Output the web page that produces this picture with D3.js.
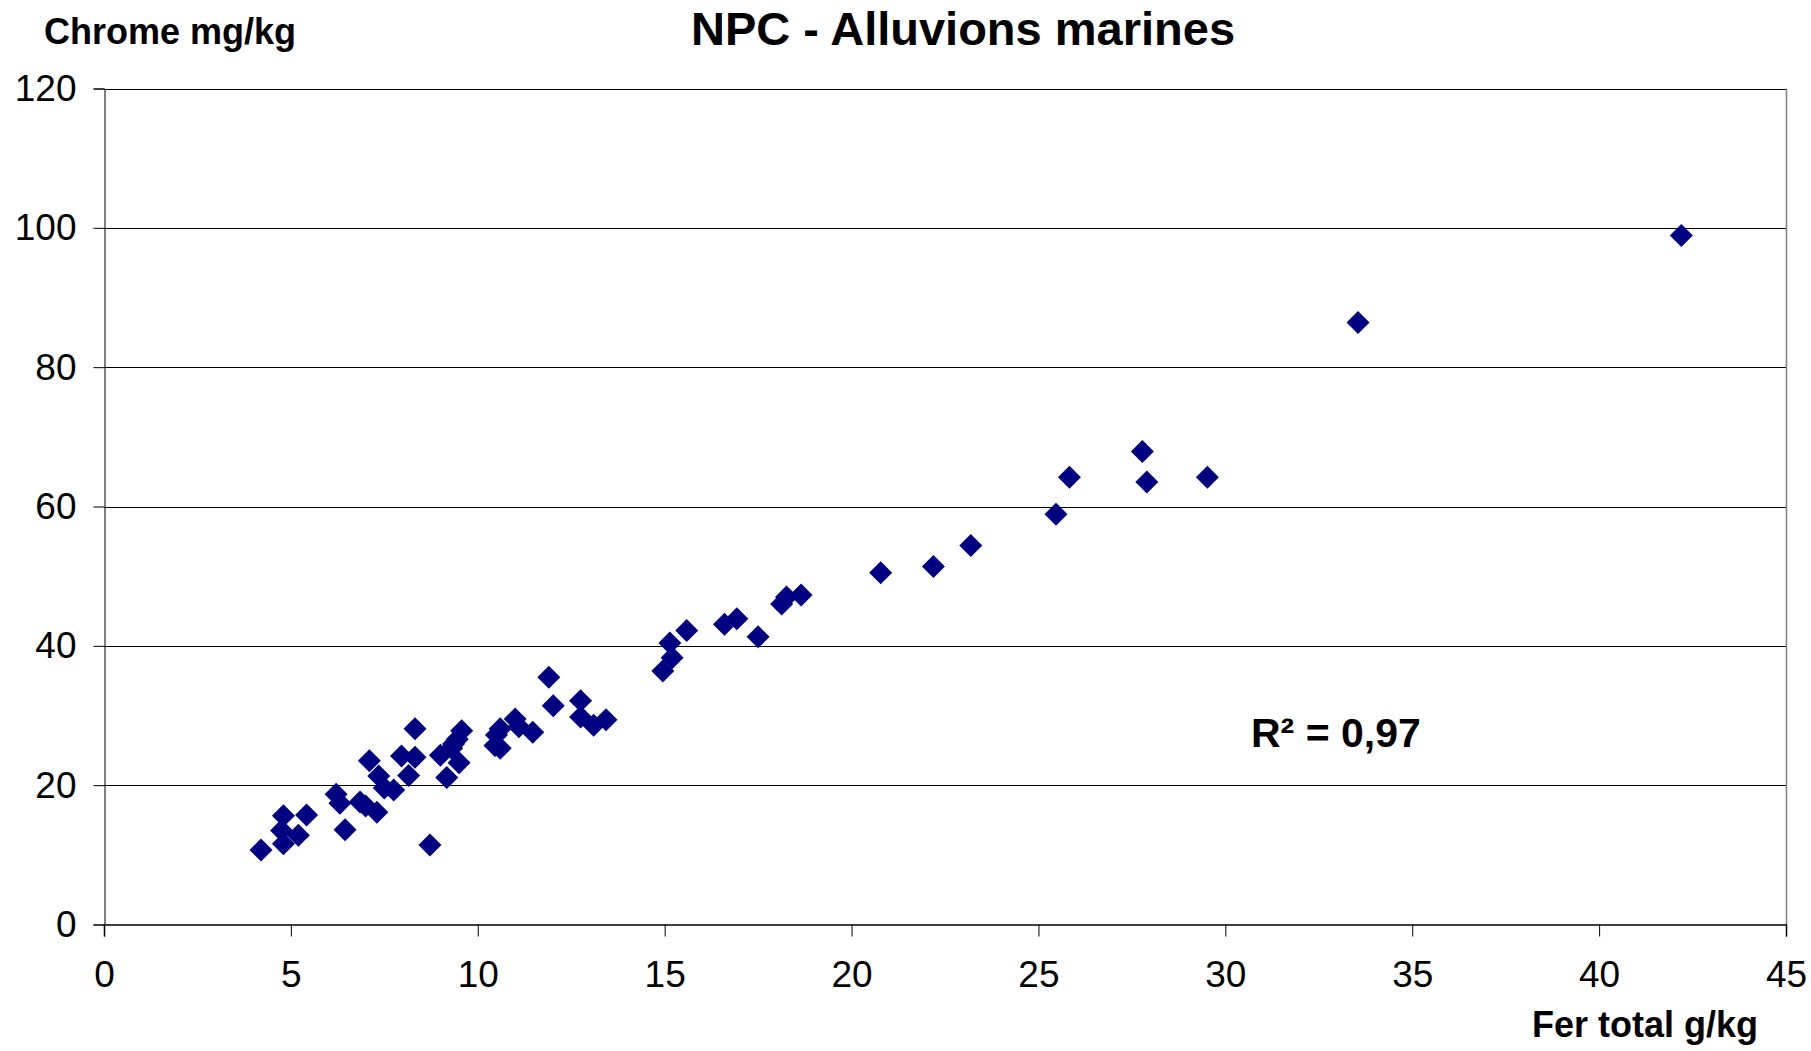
<!DOCTYPE html>
<html>
<head>
<meta charset="utf-8">
<script src="https://cdn.jsdelivr.net/npm/d3@7"></script>
<style>
html,body{margin:0;padding:0;background:#fff;}
svg{display:block;font-family:"Liberation Sans",Arial,sans-serif;}
</style>
</head>
<body>
<svg id="chart" width="1811" height="1051"></svg>
<script>
const titleText = "NPC - Alluvions marines";
const yAxisTitle = "Chrome mg/kg";
const xAxisTitle = "Fer total g/kg";
const r2Label = "R² = 0,97";
const xTicks = [0,5,10,15,20,25,30,35,40,45];
const yTicks = [0,20,40,60,80,100,120];
const ferTotal = [4.2,4.75,4.8,4.8,5.2,5.42,6.21,6.31,6.45,6.85,7.0,7.1,7.3,7.35,7.5,7.75,7.96,8.15,8.32,8.32,8.72,9.0,9.17,9.3,9.35,9.45,9.5,9.57,10.46,10.5,10.6,10.6,11.0,11.1,11.47,11.9,12.02,12.75,12.75,13.1,13.43,14.95,15.2,15.14,15.59,16.6,16.93,17.5,18.13,18.26,18.65,20.78,22.19,23.19,25.47,25.83,27.78,27.9,29.52,33.55,42.2];
const chrome  = [10.7,13.5,15.6,11.6,12.8,15.7,18.7,17.4,13.6,17.6,17.0,23.5,16.1,21.3,19.6,19.3,24.2,21.4,24.0,28.1,11.4,24.3,21.1,25.3,25.9,26.6,23.2,27.8,25.7,27.2,25.3,28.1,29.5,28.4,27.6,35.5,31.4,32.1,29.8,28.6,29.4,36.4,38.3,40.4,42.2,43.1,43.9,41.3,46.0,47.0,47.3,50.5,51.4,54.4,58.9,64.2,67.9,63.5,64.2,86.4,98.9];

const svg = d3.select("#chart");
const L = 104, R = 1786, T = 88.5, B = 924.5;
const x = d3.scaleLinear().domain([0,45]).range([L,R]);
const y = d3.scaleLinear().domain([0,120]).range([B,T]);

// gridlines
svg.append("g").selectAll("line").data(yTicks.filter(d=>d>0)).join("line")
  .attr("x1",L).attr("x2",R).attr("y1",d=>Math.round(y(d))+0.5).attr("y2",d=>Math.round(y(d))+0.5)
  .attr("stroke","#000").attr("stroke-width",1);
// right border
svg.append("line").attr("x1",R+0.5).attr("x2",R+0.5).attr("y1",T).attr("y2",B)
  .attr("stroke","#808080").attr("stroke-width",1.5);

// y axis
const yAxis = d3.axisLeft(y).tickValues(yTicks).tickSize(11).tickPadding(17).tickFormat(d3.format("d"));
const gy = svg.append("g").attr("transform",`translate(${L+0.5},0)`).call(yAxis);
gy.select(".domain").attr("stroke","#000");
gy.selectAll(".tick line").attr("stroke","#000");
gy.selectAll("text").attr("font-size",37).attr("fill","#000").attr("font-family","Liberation Sans, Arial, sans-serif");

// x axis
const xAxis = d3.axisBottom(x).tickValues(xTicks).tickSize(12).tickPadding(24).tickFormat(d3.format("d"));
const gx = svg.append("g").attr("transform",`translate(0,${B})`).call(xAxis);
gx.select(".domain").attr("stroke","#000").attr("stroke-width",1.5);
gx.selectAll(".tick line").attr("stroke","#000");
gx.selectAll("text").attr("font-size",37).attr("fill","#000").attr("font-family","Liberation Sans, Arial, sans-serif");

// points
const s = 11.5;
const diamond = `M0,${-s}L${s},0L0,${s}L${-s},0Z`;
svg.append("g").selectAll("path").data(ferTotal.map((v,i)=>[v,chrome[i]])).join("path")
  .attr("d",diamond)
  .attr("transform",d=>`translate(${x(d[0])},${y(d[1])})`)
  .attr("fill","#000080");

// texts
svg.append("text").attr("x",963).attr("y",45).attr("text-anchor","middle")
  .attr("font-size",47).attr("font-weight","bold").text(titleText);
svg.append("text").attr("x",44).attr("y",44)
  .attr("font-size",36).attr("font-weight","bold").text(yAxisTitle);
svg.append("text").attr("x",1758).attr("y",1037).attr("text-anchor","end")
  .attr("font-size",36).attr("font-weight","bold").text(xAxisTitle);
svg.append("text").attr("x",1251).attr("y",747)
  .attr("font-size",41).attr("font-weight","bold").text(r2Label);
</script>
</body>
</html>
